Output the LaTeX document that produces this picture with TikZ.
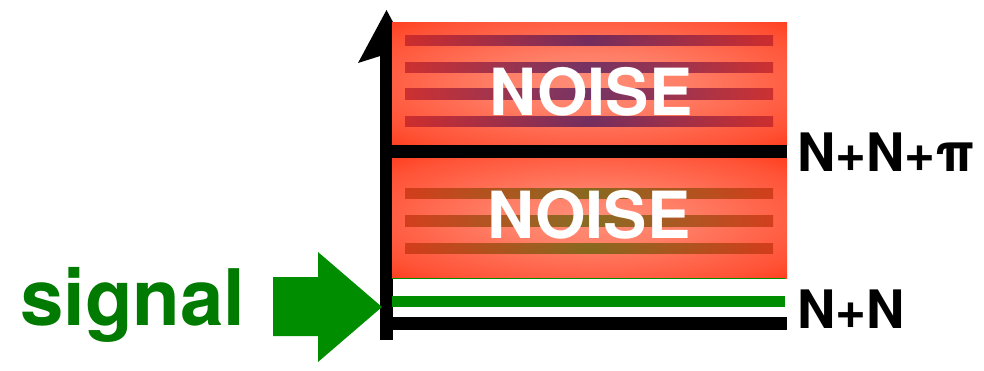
\documentclass[tikz,border=0pt]{standalone}
\usepackage{fontspec}
\setmainfont{TeX Gyre Heros}
\usetikzlibrary{calc}
\definecolor{nred}{HTML}{FF2200}
\definecolor{nglow}{HTML}{FF8E78}
\definecolor{sgreen}{HTML}{008E00}
\definecolor{tgreen}{HTML}{007A00}
\definecolor{stripeA}{HTML}{B81C28}
\definecolor{stripeAm}{HTML}{3A1060}
\definecolor{stripeB}{HTML}{C0300C}
\definecolor{stripeBm}{HTML}{566000}
\pgfdeclareradialshading{noiseglow}{\pgfpoint{0bp}{0bp}}{color(0bp)=(nglow); color(12bp)=(nglow!85!nred); color(30bp)=(nglow!45!nred); color(44bp)=(nred); color(60bp)=(nred)}
\begin{document}
\begin{tikzpicture}[x=1pt,y=-1pt,
  noisebox/.style={shading=noiseglow},
  stripeTop/.style={left color=stripeA, right color=stripeA, middle color=stripeAm, opacity=0.7},
  stripeBot/.style={left color=stripeB, right color=stripeB, middle color=stripeBm, opacity=0.7},
  noisetext/.style={text=white, inner sep=0pt, font=\fontsize{65}{65}\selectfont\bfseries},
  lbl/.style={text=black, inner sep=0pt, anchor=west, font=\fontsize{53}{53}\selectfont\bfseries},
  blackbar/.style={line width=13pt, black},
]
\useasboundingbox (0,0) rectangle (984,370);
% axis with arrow head
\coordinate (axbot) at (386.5,340);
\coordinate (axtop) at (386.5,52);
\draw[line width=13pt] (axbot) -- (axtop);
\fill[black] (358,63) -- (386.5,10) -- (415,63) -- (386.5,54) -- cycle;
% top noise box
\shade[noisebox] (392,22) rectangle (787,145);
\foreach \ya/\yb in {35/45, 62/72, 88/99, 116/126}
  \shade[stripeTop] (405,\ya) rectangle (773,\yb);
\node[noisetext] (noise1) at (591,92) {NOISE};
% bottom noise box
\shade[noisebox] (392,158) rectangle (787,278);
\foreach \ya/\yb in {188/198, 215/226, 243/253}
  \shade[stripeBot] (405,\ya) rectangle (773,\yb);
\node[noisetext] (noise2) at (589,215) {NOISE};
% lines
\coordinate (l1a) at (380,151.5);
\coordinate (l1b) at (787,151.5);
\draw[blackbar] (l1a) -- (l1b);
\draw[sgreen, line width=1.5pt] (392,278.5) -- (785,278.5);
\coordinate (ga) at (392,301.5);
\coordinate (gb) at (785,301.5);
\draw[sgreen, line width=11pt] (ga) -- (gb);
\coordinate (l2a) at (380,323.5);
\coordinate (l2b) at (787,323.5);
\draw[blackbar] (l2a) -- (l2b);
% labels
\node[lbl] (lab1) at (797,152) {N+N+π};
\node[lbl] (lab2) at (797,309) {N+N};
% signal
\node[text=tgreen, inner sep=0pt, anchor=base west, font=\fontsize{78}{78}\selectfont\bfseries] (sig) at (20,325) {signal};
\fill[sgreen] (273,277) -- (318,277) -- (318,252) -- (382,307) -- (318,362) -- (318,336) -- (273,336) -- cycle;
\end{tikzpicture}
\end{document}
